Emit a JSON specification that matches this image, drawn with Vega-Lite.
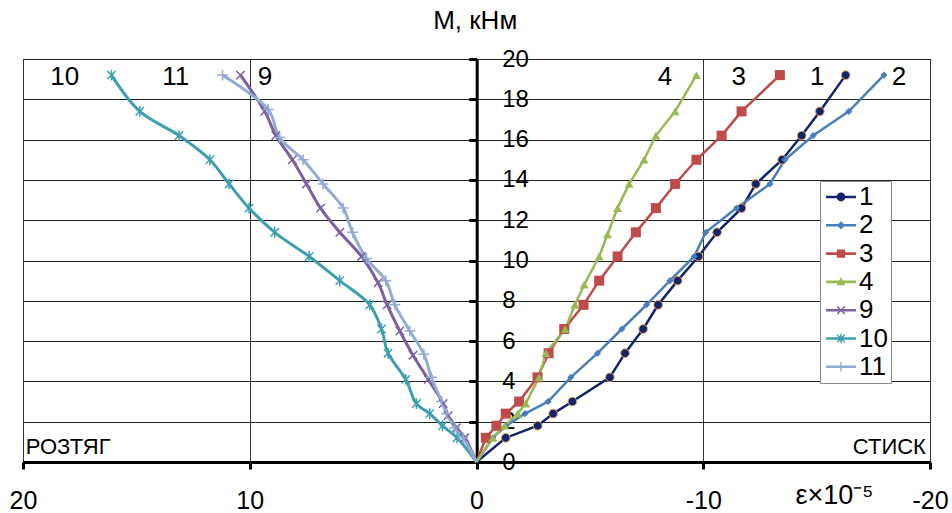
{
  "$schema": "https://vega.github.io/schema/vega-lite/v6.json",
  "width": 907,
  "height": 403,
  "autosize": {"type": "none"},
  "padding": {"left": 23, "top": 59, "right": 22, "bottom": 51},
  "background": "#ffffff",
  "config": {
    "font": "Liberation Sans",
    "view": {"stroke": "#000000", "strokeWidth": 1}
  },
  "datasets": {
    "pts": [
      {"s": "1", "m": 0, "e": 0}, {"s": "1", "m": 1.2, "e": -1.29}, {"s": "1", "m": 1.8, "e": -2.7}, {"s": "1", "m": 2.4, "e": -3.38}, {"s": "1", "m": 3.0, "e": -4.23}, {"s": "1", "m": 4.2, "e": -5.88}, {"s": "1", "m": 5.4, "e": -6.55}, {"s": "1", "m": 6.6, "e": -7.35}, {"s": "1", "m": 7.8, "e": -8.01}, {"s": "1", "m": 9.0, "e": -8.87}, {"s": "1", "m": 10.2, "e": -9.79}, {"s": "1", "m": 11.4, "e": -10.61}, {"s": "1", "m": 12.6, "e": -11.69}, {"s": "1", "m": 13.8, "e": -12.32}, {"s": "1", "m": 15.0, "e": -13.48}, {"s": "1", "m": 16.2, "e": -14.34}, {"s": "1", "m": 17.4, "e": -15.14}, {"s": "1", "m": 19.2, "e": -16.28},
      {"s": "2", "m": 0, "e": 0}, {"s": "2", "m": 1.2, "e": -0.72}, {"s": "2", "m": 1.8, "e": -1.3}, {"s": "2", "m": 2.4, "e": -2.14}, {"s": "2", "m": 3.0, "e": -3.16}, {"s": "2", "m": 4.2, "e": -4.16}, {"s": "2", "m": 5.4, "e": -5.34}, {"s": "2", "m": 6.6, "e": -6.41}, {"s": "2", "m": 7.8, "e": -7.5}, {"s": "2", "m": 9.0, "e": -8.53}, {"s": "2", "m": 10.2, "e": -9.6}, {"s": "2", "m": 11.4, "e": -10.11}, {"s": "2", "m": 12.6, "e": -11.47}, {"s": "2", "m": 13.8, "e": -12.94}, {"s": "2", "m": 15.0, "e": -13.6}, {"s": "2", "m": 16.2, "e": -14.85}, {"s": "2", "m": 17.4, "e": -16.42}, {"s": "2", "m": 19.2, "e": -17.97},
      {"s": "3", "m": 0, "e": 0}, {"s": "3", "m": 1.2, "e": -0.41}, {"s": "3", "m": 1.8, "e": -0.88}, {"s": "3", "m": 2.4, "e": -1.29}, {"s": "3", "m": 3.0, "e": -1.88}, {"s": "3", "m": 4.2, "e": -2.69}, {"s": "3", "m": 5.4, "e": -3.18}, {"s": "3", "m": 6.6, "e": -3.87}, {"s": "3", "m": 7.8, "e": -4.72}, {"s": "3", "m": 9.0, "e": -5.41}, {"s": "3", "m": 10.2, "e": -6.22}, {"s": "3", "m": 11.4, "e": -7.03}, {"s": "3", "m": 12.6, "e": -7.91}, {"s": "3", "m": 13.8, "e": -8.76}, {"s": "3", "m": 15.0, "e": -9.7}, {"s": "3", "m": 16.2, "e": -10.81}, {"s": "3", "m": 17.4, "e": -11.69}, {"s": "3", "m": 19.2, "e": -13.38},
      {"s": "4", "m": 0, "e": 0}, {"s": "4", "m": 1.2, "e": -0.71}, {"s": "4", "m": 1.8, "e": -1.25}, {"s": "4", "m": 2.4, "e": -1.81}, {"s": "4", "m": 2.9, "e": -2.17}, {"s": "4", "m": 4.2, "e": -2.76}, {"s": "4", "m": 5.4, "e": -3.06}, {"s": "4", "m": 6.6, "e": -3.91}, {"s": "4", "m": 7.8, "e": -4.34}, {"s": "4", "m": 8.8, "e": -4.75}, {"s": "4", "m": 10.2, "e": -5.41}, {"s": "4", "m": 11.3, "e": -5.78}, {"s": "4", "m": 12.6, "e": -6.22}, {"s": "4", "m": 13.8, "e": -6.73}, {"s": "4", "m": 15.0, "e": -7.39}, {"s": "4", "m": 16.2, "e": -7.91}, {"s": "4", "m": 17.4, "e": -8.76}, {"s": "4", "m": 19.2, "e": -9.7},
      {"s": "9", "m": 0, "e": 0}, {"s": "9", "m": 1.2, "e": 0.52}, {"s": "9", "m": 1.7, "e": 0.88}, {"s": "9", "m": 2.3, "e": 1.25}, {"s": "9", "m": 2.9, "e": 1.47}, {"s": "9", "m": 4.1, "e": 2.13}, {"s": "9", "m": 5.3, "e": 2.8}, {"s": "9", "m": 6.5, "e": 3.38}, {"s": "9", "m": 7.8, "e": 3.94}, {"s": "9", "m": 8.9, "e": 4.34}, {"s": "9", "m": 10.2, "e": 5.07}, {"s": "9", "m": 11.4, "e": 6.03}, {"s": "9", "m": 12.6, "e": 6.88}, {"s": "9", "m": 13.8, "e": 7.5}, {"s": "9", "m": 15.0, "e": 8.12}, {"s": "9", "m": 16.2, "e": 8.85}, {"s": "9", "m": 17.4, "e": 9.34}, {"s": "9", "m": 19.2, "e": 10.41},
      {"s": "10", "m": 0, "e": 0}, {"s": "10", "m": 1.2, "e": 0.86}, {"s": "10", "m": 1.8, "e": 1.5}, {"s": "10", "m": 2.4, "e": 2.06}, {"s": "10", "m": 2.9, "e": 2.65}, {"s": "10", "m": 4.1, "e": 3.12}, {"s": "10", "m": 5.4, "e": 3.9}, {"s": "10", "m": 6.6, "e": 4.19}, {"s": "10", "m": 7.8, "e": 4.71}, {"s": "10", "m": 9.0, "e": 6.03}, {"s": "10", "m": 10.2, "e": 7.38}, {"s": "10", "m": 11.4, "e": 8.9}, {"s": "10", "m": 12.6, "e": 10.03}, {"s": "10", "m": 13.8, "e": 10.91}, {"s": "10", "m": 15.0, "e": 11.76}, {"s": "10", "m": 16.2, "e": 13.12}, {"s": "10", "m": 17.4, "e": 14.85}, {"s": "10", "m": 19.2, "e": 16.1},
      {"s": "11", "m": 0, "e": 0}, {"s": "11", "m": 1.2, "e": 0.59}, {"s": "11", "m": 1.7, "e": 0.96}, {"s": "11", "m": 2.4, "e": 1.32}, {"s": "11", "m": 3.0, "e": 1.54}, {"s": "11", "m": 4.2, "e": 1.99}, {"s": "11", "m": 5.35, "e": 2.32}, {"s": "11", "m": 6.5, "e": 2.94}, {"s": "11", "m": 7.8, "e": 3.6}, {"s": "11", "m": 9.0, "e": 4.0}, {"s": "11", "m": 10.1, "e": 4.85}, {"s": "11", "m": 11.4, "e": 5.47}, {"s": "11", "m": 12.6, "e": 5.88}, {"s": "11", "m": 13.8, "e": 6.77}, {"s": "11", "m": 15.0, "e": 7.65}, {"s": "11", "m": 16.1, "e": 8.68}, {"s": "11", "m": 17.5, "e": 9.19}, {"s": "11", "m": 19.2, "e": 11.2}
    ],
    "ann": [
      {"t": "10", "e": 18.16, "m": 19.1, "k": "c"},
      {"t": "11", "e": 13.26, "m": 19.1, "k": "c"},
      {"t": "9", "e": 9.33, "m": 19.1, "k": "c"},
      {"t": "4", "e": -8.31, "m": 19.1, "k": "c"},
      {"t": "3", "e": -11.57, "m": 19.1, "k": "c"},
      {"t": "1", "e": -15.03, "m": 19.1, "k": "c"},
      {"t": "2", "e": -18.63, "m": 19.1, "k": "c"},
      {"t": "РОЗТЯГ", "e": 19.88, "m": 0.75, "k": "l"},
      {"t": "СТИСК", "e": -19.82, "m": 0.72, "k": "r"}
    ]
  },
  "encoding": {
    "x": {
      "field": "e", "type": "quantitative",
      "scale": {"domain": [-20, 20], "reverse": true, "nice": false, "zero": false},
      "axis": {
        "values": [-20, -10, 0, 10, 20],
        "labelExpr": "'' + datum.value",
        "labelFlush": false, "labelOverlap": false,
        "labelFontSize": 25, "labelColor": "#000000",
        "labelBaseline": "middle", "labelPadding": 31,
        "domainColor": "#000000", "domainWidth": 3,
        "tickColor": "#000000", "tickWidth": 3, "tickSize": 7,
        "grid": true, "gridColor": "#333333", "gridWidth": 1,
        "title": "ε×10⁻⁵", "titleFontSize": 27, "titleFontWeight": "normal", "titleColor": "#000000",
        "titleX": 811, "titleY": 33, "titleAlign": "center", "titleBaseline": "middle"
      }
    },
    "y": {
      "field": "m", "type": "quantitative",
      "scale": {"domain": [0, 20], "nice": false, "zero": false},
      "axis": {
        "orient": "right", "offset": -453.3,
        "values": [0, 2, 4, 6, 8, 10, 12, 14, 16, 18, 20],
        "labelFlush": false, "labelOverlap": false,
        "labelFontSize": 24, "labelColor": "#000000",
        "labelAlign": "left", "labelBaseline": "middle", "labelPadding": 33,
        "domainColor": "#000000", "domainWidth": 3,
        "tickColor": "#000000", "tickWidth": 3, "tickSize": -8,
        "grid": true, "gridColor": "#222222", "gridWidth": 1,
        "title": "M, кНм", "titleFontSize": 26, "titleFontWeight": "normal", "titleColor": "#000000",
        "titleAngle": 0, "titleX": -2, "titleY": -39, "titleAlign": "center", "titleBaseline": "middle"
      }
    }
  },
  "layer": [
    {
      "data": {"name": "pts"},
      "transform": [{"filter": "datum.m > 0"}],
      "mark": {"type": "point", "filled": true, "opacity": 0},
      "encoding": {
        "color": {
          "field": "s", "type": "nominal",
          "scale": {"domain": ["1", "2", "3", "4", "9", "10", "11"], "range": ["#10256b", "#4a7ebb", "#be4b48", "#98b954", "#7d60a0", "#3d9fb0", "#93acd6"]},
          "legend": {
            "orient": "none", "legendX": 797, "legendY": 122, "title": null,
            "padding": 3, "strokeColor": "#8a8a8a", "fillColor": "#ffffff",
            "labelFontSize": 26, "labelColor": "#000000", "labelOffset": 5,
            "symbolSize": 676, "symbolOffset": 5, "rowPadding": 2.3, "symbolOpacity": 1, "symbolStrokeWidth": 0
          }
        },
        "shape": {
          "field": "s", "type": "nominal", "legend": null,
          "scale": {"domain": ["1", "2", "3", "4", "9", "10", "11"], "range": [
            "M-1.15,-0.1H1.15V0.1H-1.15Z M0.34,0A0.34,0.34 0 1,1 -0.34,0A0.34,0.34 0 1,1 0.34,0Z",
            "M-1.15,-0.1H1.15V0.1H-1.15Z M0,-0.32L0.32,0L0,0.32L-0.32,0Z",
            "M-1.15,-0.1H1.15V0.1H-1.15Z M-0.32,-0.32H0.32V0.32H-0.32Z",
            "M-1.15,-0.1H1.15V0.1H-1.15Z M0,-0.36L0.34,0.25H-0.34Z",
            "M-1.15,-0.1H1.15V0.1H-1.15Z M-0.25,-0.33L0.33,0.25L0.25,0.33L-0.33,-0.25Z M-0.33,0.25L0.25,-0.33L0.33,-0.25L-0.25,0.33Z",
            "M-1.15,-0.1H1.15V0.1H-1.15Z M-0.25,-0.33L0.33,0.25L0.25,0.33L-0.33,-0.25Z M-0.33,0.25L0.25,-0.33L0.33,-0.25L-0.25,0.33Z M-0.055,-0.37H0.055V0.37H-0.055Z",
            "M-1.15,-0.1H1.15V0.1H-1.15Z M-0.055,-0.37H0.055V0.37H-0.055Z"
          ]}
        }
      }
    },
    {
      "data": {"name": "pts"},
      "transform": [{"filter": "indexof(['1','2','3','4'], datum.s) >= 0"}],
      "mark": {"type": "line", "strokeWidth": 2.5},
      "encoding": {
        "color": {"field": "s", "type": "nominal", "legend": null},
        "order": {"field": "m", "type": "quantitative"}
      }
    },
    {
      "data": {"name": "pts"},
      "transform": [{"filter": "indexof(['9','10','11'], datum.s) >= 0"}],
      "mark": {"type": "line", "strokeWidth": 3, "interpolate": "catmull-rom"},
      "encoding": {
        "color": {"field": "s", "type": "nominal", "legend": null},
        "order": {"field": "m", "type": "quantitative"}
      }
    },
    {
      "data": {"name": "pts"},
      "transform": [{"filter": "datum.s === '1' && datum.m > 0"}],
      "mark": {"type": "point", "filled": true, "opacity": 1, "shape": "circle", "size": 75, "stroke": "#f0a050", "strokeWidth": 1},
      "encoding": {"color": {"field": "s", "type": "nominal", "legend": null}}
    },
    {
      "data": {"name": "pts"},
      "transform": [{"filter": "datum.s === '2' && datum.m > 0"}],
      "mark": {"type": "point", "filled": true, "opacity": 1, "shape": "diamond", "size": 50},
      "encoding": {"color": {"field": "s", "type": "nominal", "legend": null}}
    },
    {
      "data": {"name": "pts"},
      "transform": [{"filter": "datum.s === '3' && datum.m > 0"}],
      "mark": {"type": "point", "filled": true, "opacity": 1, "shape": "square", "size": 100},
      "encoding": {"color": {"field": "s", "type": "nominal", "legend": null}}
    },
    {
      "data": {"name": "pts"},
      "transform": [{"filter": "datum.s === '4' && datum.m > 0"}],
      "mark": {"type": "point", "filled": true, "opacity": 1, "shape": "triangle-up", "size": 80},
      "encoding": {"color": {"field": "s", "type": "nominal", "legend": null}}
    },
    {
      "data": {"name": "pts"},
      "transform": [{"filter": "datum.s === '9' && datum.m > 0"}],
      "mark": {"type": "point", "filled": false, "opacity": 1, "shape": "M-1,-1L1,1M-1,1L1,-1", "size": 70, "strokeWidth": 1.5},
      "encoding": {"color": {"field": "s", "type": "nominal", "legend": null}}
    },
    {
      "data": {"name": "pts"},
      "transform": [{"filter": "datum.s === '10' && datum.m > 0"}],
      "mark": {"type": "point", "filled": false, "opacity": 1, "shape": "M-1,-1L1,1M-1,1L1,-1M0,-1.3V1.3", "size": 70, "strokeWidth": 1.5},
      "encoding": {"color": {"field": "s", "type": "nominal", "legend": null}}
    },
    {
      "data": {"name": "pts"},
      "transform": [{"filter": "datum.s === '11' && datum.m > 0"}],
      "mark": {"type": "point", "filled": false, "opacity": 1, "shape": "M-1.3,0H1.3M0,-1.3V1.3", "size": 70, "strokeWidth": 1.5},
      "encoding": {"color": {"field": "s", "type": "nominal", "legend": null}}
    },
    {
      "data": {"name": "ann"},
      "transform": [{"filter": "datum.k === 'c'"}],
      "mark": {"type": "text", "fontSize": 26, "align": "center", "baseline": "middle", "color": "#000000"},
      "encoding": {"text": {"field": "t"}}
    },
    {
      "data": {"name": "ann"},
      "transform": [{"filter": "datum.k === 'l'"}],
      "mark": {"type": "text", "fontSize": 22, "align": "left", "baseline": "middle", "color": "#000000"},
      "encoding": {"text": {"field": "t"}}
    },
    {
      "data": {"name": "ann"},
      "transform": [{"filter": "datum.k === 'r'"}],
      "mark": {"type": "text", "fontSize": 22, "align": "right", "baseline": "middle", "color": "#000000"},
      "encoding": {"text": {"field": "t"}}
    }
  ]
}
